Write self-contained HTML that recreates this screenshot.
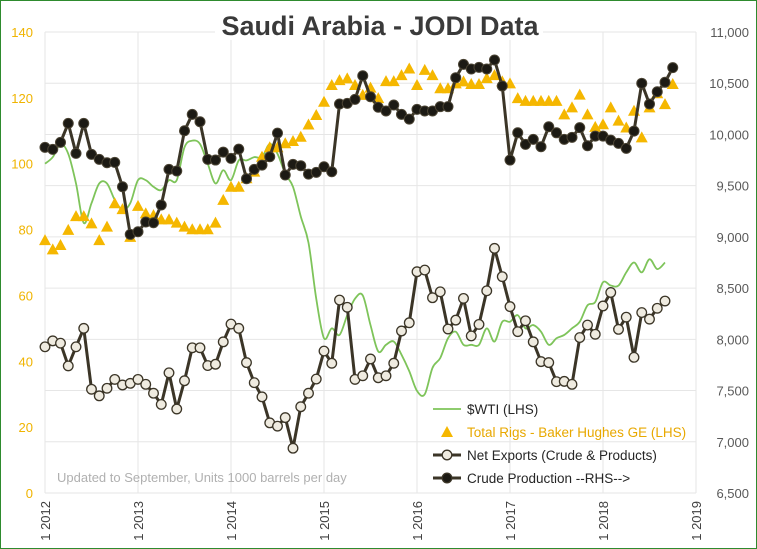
<!DOCTYPE html>
<html><head><meta charset="utf-8">
<style>
html,body{margin:0;padding:0;background:#fff;}
svg{display:block;font-family:"Liberation Sans",sans-serif;}
</style></head>
<body>
<svg id="chart" width="757" height="549" viewBox="0 0 757 549">
<rect x="0.5" y="0.5" width="756" height="548" fill="#fff" stroke="#2e8b2e" stroke-width="1"/>
<g id="grid"></g>
<rect x="215" y="8" width="328" height="32" fill="#fff"/>
<text x="380" y="35" text-anchor="middle" font-size="27" font-weight="bold" fill="#3a3a3a">Saudi Arabia - JODI Data</text>
<g id="axes"></g>
<g id="series"></g>
<text x="57" y="482" font-size="13" fill="#b0b0b0">Updated to September, Units 1000 barrels per day</text>
<g id="legend"></g>
</svg>
<script>
const years = ["1 2012","1 2013","1 2014","1 2015","1 2016","1 2017","1 2018","1 2019"];
const leftTicks = [0,20,40,60,80,100,120,140];
const rightTicks = [6500,7000,7500,8000,8500,9000,9500,10000,10500,11000];
const rightTickLabels = ["6,500","7,000","7,500","8,000","8,500","9,000","9,500","10,000","10,500","11,000"];
const wti = [100,102,106,103,94,82,88,94,94,89,86,88, 95,95,93,92,95,95,105,107,106,100,94,98, 95,101,101,102,102,106,103,97,93,84,76,59, 47,50,48,54,59,60,51,43,45,46,42,37, 31,30,38,41,47,49,45,45,45,50,46,52, 52,54,50,51,49,45,47,48,50,52,57,58, 64,63,63,67,70,67,71,68,70];
const rigs = [76.8,74,75.3,79.9,84.1,84.1,81.9,76.8,80.9,88,86.2,77.8, 87.2,84.9,84.4,83.1,83.1,82.1,80.9,80.1,80.1,80.1,82.1,89, 93,93,95.6,97.6,102.1,105,105,106.2,106.9,108.2,111.9,114.8, 118.8,123.9,125.4,125.9,123.9,120.9,123.1,119.9,125.1,125.1,126.9,128.9, 123.9,128.5,126.9,122.9,122.9,124.4,125,124.2,124.2,126,126.9,125, 124.4,119.9,119.1,119.1,119.1,119.1,119.1,115,117.1,121,115,111.2, 112,117.1,113.1,111,116.1,108,117.1,121.4,118.1,124.2];
const exportsNet = [44.4,46.2,45.5,38.6,44.4,50,31.5,29.5,31.8,34.5,32.8,33.3, 34.5,33,30.3,26.9,36.5,25.5,34.1,44.1,44.1,38.7,39.1,45.9, 51.3,50,39.6,33.5,29.2,21.3,20.3,22.9,13.6,26.2,30.3,34.6, 43.1,39.4,58.6,56.4,34.5,35.6,40.7,35,35.6,39.4,49.2,51.7, 67.2,67.7,59.3,61.1,49.8,52.5,59.1,47.7,51.2,61.4,74.3,65.7, 56.6,49,52.3,45.9,39.9,39.6,33.8,33.9,33,47.2,51,48.2, 56.8,60.9,49.7,53.4,41.2,54.8,52.8,56.1,58.3];
const production = [9874,9854,9923,10108,9815,10108,9805,9757,9724,9727,9489,9024, 9050,9145,9138,9311,9659,9643,10036,10196,10124,9757,9750,9828, 9766,9857,9568,9659,9701,9782,10013,9604,9708,9695,9613,9630, 9685,9636,10297,10303,10342,10573,10368,10265,10229,10287,10196,10150, 10245,10229,10229,10271,10271,10554,10684,10639,10655,10639,10727,10473, 9750,10016,9903,9952,9880,10075,10016,9952,9972,10066,9890,9984, 9984,9945,9913,9864,10033,10499,10297,10417,10509,10652];

const NS="http://www.w3.org/2000/svg";
const X0=45, MSTEP=7.75, Y0=493, Y1=32;
function xs(i){return X0+i*MSTEP;}
function yl(v){return Y0-(v/140)*(Y0-Y1);}
function yr(v){return Y0-((v-6500)/4500)*(Y0-Y1);}
function mk(tag,attrs,parent){const e=document.createElementNS(NS,tag);for(const k in attrs)e.setAttribute(k,attrs[k]);parent.appendChild(e);return e;}
const grid=document.getElementById('grid'),axes=document.getElementById('axes'),ser=document.getElementById('series'),leg=document.getElementById('legend');

rightTicks.forEach((t,i)=>{
  const l=mk('line',{x1:X0,x2:696,y1:yr(t),y2:yr(t),stroke:'#e6e6e6','stroke-width':1},grid);
  
  
  const tx=mk('text',{x:749,y:yr(t)+5,'text-anchor':'end','font-size':13,fill:'#595959'},axes);
  tx.textContent=rightTickLabels[i];
  
  
});
years.forEach((y,i)=>{
  const x=X0+i*12*MSTEP;
  const l=mk('line',{x1:x,x2:x,y1:Y1,y2:Y0,stroke:'#e6e6e6','stroke-width':1},grid);
  
  
  const tx=mk('text',{x:0,y:0,'text-anchor':'end','font-size':13,fill:'#404040',transform:`translate(${x+5},${501}) rotate(-90)`},axes);
  tx.textContent=y;
  
  
});
leftTicks.forEach(t=>{
  const tx=mk('text',{x:33,y:yl(t)+5,'text-anchor':'end','font-size':13,fill:'#f0b400'},axes);
  tx.textContent=t;
  
  
});

(function(){
  const pts=wti.map((v,i)=>[xs(i),yl(v)]);
  let d=`M${pts[0][0]},${pts[0][1]}`;
  for(let i=0;i<pts.length-1;i++){
    const p0=pts[i-1]||pts[i],p1=pts[i],p2=pts[i+1],p3=pts[i+2]||p2;
    const c1=[p1[0]+(p2[0]-p0[0])/6,p1[1]+(p2[1]-p0[1])/6],c2=[p2[0]-(p3[0]-p1[0])/6,p2[1]-(p3[1]-p1[1])/6];
    d+=` C${c1[0]},${c1[1]} ${c2[0]},${c2[1]} ${p2[0]},${p2[1]}`;
  }
  const p=mk('path',{d:d,fill:'none',stroke:'#7ec45a','stroke-width':1.8},ser);
  
  
})();
rigs.forEach((v,i)=>{
  const x=xs(i),y=yl(v);
  const t=mk('polygon',{points:`${x},${y-6} ${x-6},${y+5} ${x+6},${y+5}`,fill:'#f5b700'},ser);
  
  
});
(function(){
  const p=mk('polyline',{points:exportsNet.map((v,i)=>xs(i)+','+yl(v)).join(' '),fill:'none',stroke:'#3b3527','stroke-width':3},ser);
  
  
  exportsNet.forEach((v,i)=>{
    const c=mk('circle',{cx:xs(i),cy:yl(v),r:4.8,fill:'#efebe0',stroke:'#3b3527','stroke-width':1.3},ser);
    
    
  });
})();
(function(){
  const p=mk('polyline',{points:production.map((v,i)=>xs(i)+','+yr(v)).join(' '),fill:'none',stroke:'#3b3527','stroke-width':3},ser);
  
  
  production.forEach((v,i)=>{
    const c=mk('circle',{cx:xs(i),cy:yr(v),r:5,fill:'#1c1a14',stroke:'#4a4333','stroke-width':1},ser);
    
    
  });
})();
const legItems=["$WTI (LHS)","Total Rigs - Baker Hughes GE (LHS)","Net Exports (Crude & Products)","Crude Production --RHS-->"];
legItems.forEach((s,i)=>{
  const y=409+i*23, x1=433, x2=461, xm=447;
  if(i===0){
    const l=mk('line',{x1:x1,x2:x2,y1:y,y2:y,stroke:'#7ec45a','stroke-width':1.8},leg);
    
    
  } else if(i===1){
    const t=mk('polygon',{points:`${xm},${y-6} ${xm-6},${y+5} ${xm+6},${y+5}`,fill:'#f5b700'},leg);
    
    
  } else {
    const l=mk('line',{x1:x1,x2:x2,y1:y,y2:y,stroke:'#3b3527','stroke-width':3},leg);
    
    
    const c=mk('circle',{cx:xm,cy:y,r:4.8,fill:i===2?'#efebe0':'#1c1a14',stroke:'#3b3527','stroke-width':1.3},leg);
    
    
  }
  const tx=mk('text',{x:467,y:y+5,'font-size':13.5,fill:i===1?'#e8a800':'#262626'},leg);
  tx.textContent=s;
  
  
});
</script>
</body></html>
